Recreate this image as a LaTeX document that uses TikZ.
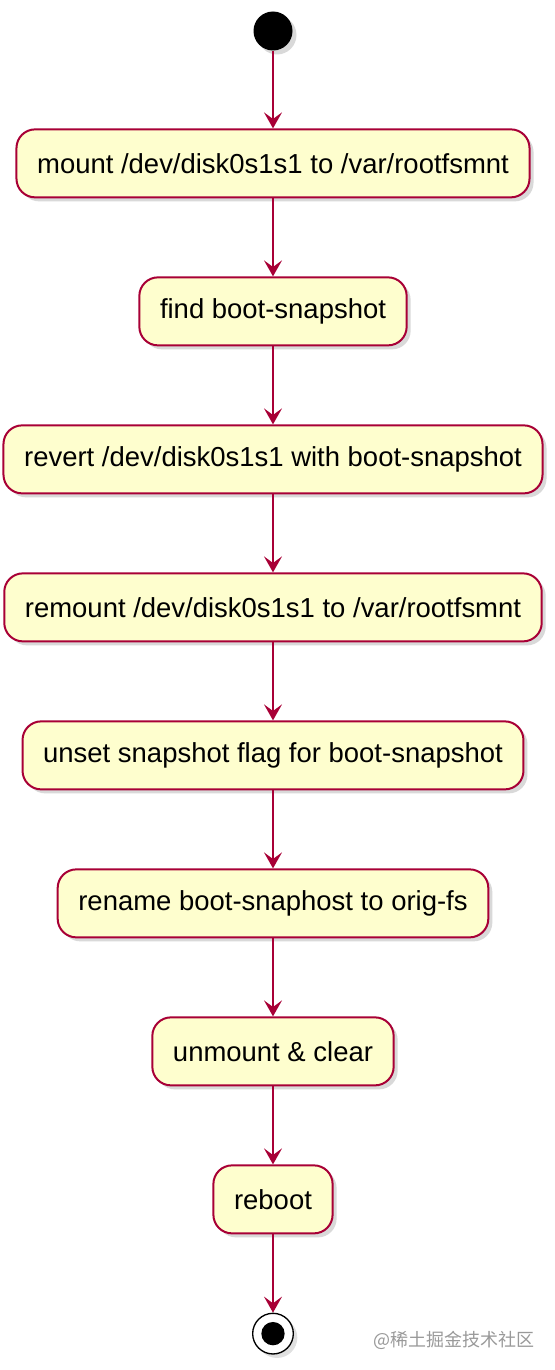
\documentclass[tikz,border=0pt]{standalone}
\usepackage{fontspec}
\setmainfont{Liberation Sans}
\newfontfamily\cjk{Noto Sans CJK SC}
\usepackage{tikz}
\usetikzlibrary{shadows}
\usetikzlibrary{positioning}
\usetikzlibrary{arrows.meta,shapes}
\definecolor{plumred}{HTML}{A80036}
\definecolor{actionyellow}{HTML}{FEFECE}
\tikzstyle{action}=[rectangle,rounded corners=14pt,draw=plumred,line width=1.5pt,fill=actionyellow,minimum height=51pt,inner xsep=15.5pt,font=\fontsize{20.6}{24}\selectfont,drop shadow={shadow xshift=3pt,shadow yshift=-3pt,opacity=0.25,fill=black!60}]
\tikzstyle{startnode}=[circle,fill=black,minimum size=29.25pt,inner sep=0pt,drop shadow={shadow xshift=3pt,shadow yshift=-3pt,opacity=0.25,fill=black!60}]
\tikzstyle{stopnode}=[circle,draw=black,line width=1pt,fill=white,minimum size=30.5pt,inner sep=0pt,drop shadow={shadow xshift=3pt,shadow yshift=-3pt,opacity=0.2,fill=black!60}]
\tikzstyle{stopdot}=[circle,fill=black,minimum size=17.5pt,inner sep=0pt]
\tikzstyle{edge} = [draw,line width=1.4pt,plumred,-{Stealth[length=12pt,width=13.5pt,inset=5pt]}]
\tikzstyle{watermark} = [font=\cjk\fontsize{13.5}{16}\selectfont,text=black!40]

\begin{document}
\begin{tikzpicture}
    \useasboundingbox (-204.75pt, 23.25pt) rectangle (210.75pt, -1004.25pt);
    % start point
    \node[startnode] (start) at (0, 0) {};

    % the actions, each one below the previous
    \node[action, below=58.2pt of start] (a1) {mount /dev/disk0s1s1 to /var/rootfsmnt};
    \foreach \name/\prev/\text in {{a2/a1/find boot-snapshot}, {a3/a2/{revert /dev/disk0s1s1 with boot-snapshot}}, {a4/a3/{remount /dev/disk0s1s1 to /var/rootfsmnt}}, {a5/a4/unset snapshot flag for boot-snapshot}, {a6/a5/rename boot-snaphost to orig-fs}, {a7/a6/unmount \& clear}, {a8/a7/reboot}}
        \node[action, below=58.5pt of \prev] (\name) {\text};

    % end point
    \node[stopnode, below=58.7pt of a8] (stop) {};
    \node[stopdot] (stopdot) at (stop) {};

    % connect them
    \foreach \source/ \dest in {start/a1, a1/a2, a2/a3, a3/a4, a4/a5, a5/a6, a6/a7, a7/a8, a8/stop}
          \path[edge] (\source) -- (\dest);

    \node[watermark, right=56pt of stop, yshift=-5pt] (mark) {@稀土掘金技术社区};
\end{tikzpicture}
\end{document}
